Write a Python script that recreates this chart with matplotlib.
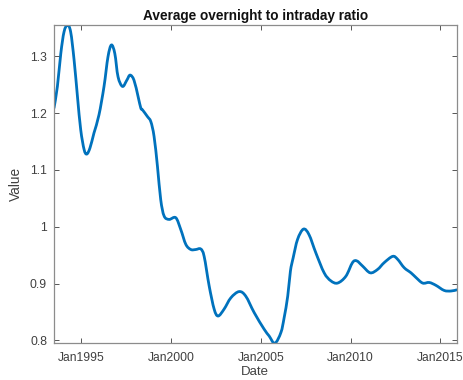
import datetime as dt
import matplotlib
matplotlib.use("Agg")
import matplotlib.pyplot as plt
import matplotlib.dates as mdates
from matplotlib.path import Path
from matplotlib.patches import PathPatch

# Ratio series: (decimal year, value)
years = [1993.47, 1993.66, 1993.85, 1994.03, 1994.22, 1994.40, 1994.59, 1994.78, 1994.96,
         1995.15, 1995.30, 1995.48, 1995.70, 1995.98, 1996.26, 1996.48, 1996.67, 1996.86,
         1997.04, 1997.29, 1997.53, 1997.71, 1997.93, 1998.16, 1998.31, 1998.40, 1998.68,
         1998.87, 1999.05, 1999.24, 1999.42, 1999.61, 1999.89, 2000.26, 2000.54, 2000.82,
         2001.10, 2001.37, 2001.65, 2001.84, 2002.12, 2002.40, 2002.62, 2002.95,
         2003.33, 2003.79, 2004.16, 2004.63, 2005.18, 2005.46, 2005.78, 2006.12, 2006.30,
         2006.50, 2006.65, 2006.80, 2007.05, 2007.38, 2007.69, 2008.07, 2008.53, 2008.90,
         2009.28, 2009.74, 2010.11, 2010.35, 2010.67, 2011.10, 2011.51, 2011.88, 2012.35,
         2012.62, 2012.99, 2013.37, 2013.64, 2014.02, 2014.39, 2014.76, 2015.22, 2015.60,
         2015.92]
values = [1.209, 1.247, 1.305, 1.343, 1.355, 1.343, 1.294, 1.229, 1.171,
          1.136, 1.128, 1.139, 1.165, 1.197, 1.247, 1.299, 1.320, 1.305,
          1.264, 1.247, 1.258, 1.267, 1.258, 1.229, 1.209, 1.206, 1.194,
          1.185, 1.159, 1.106, 1.048, 1.019, 1.013, 1.016, 0.995, 0.969,
          0.960, 0.960, 0.961, 0.948, 0.896, 0.855, 0.843, 0.855,
          0.875, 0.886, 0.878, 0.849, 0.820, 0.808, 0.795, 0.814, 0.840,
          0.878, 0.922, 0.945, 0.978, 0.996, 0.986, 0.954, 0.919, 0.905,
          0.901, 0.913, 0.937, 0.940, 0.931, 0.919, 0.925, 0.937, 0.948,
          0.943, 0.928, 0.919, 0.911, 0.901, 0.902, 0.897, 0.888, 0.887,
          0.889]

tick_years = [1995, 2000, 2005, 2010, 2015]
ytick_values = [0.8, 0.9, 1.0, 1.1, 1.2, 1.3]
ytick_labels = ["0.8", "0.9", "1", "1.1", "1.2", "1.3"]


def to_date(y):
    year = int(y)
    start = dt.datetime(year, 1, 1)
    end = dt.datetime(year + 1, 1, 1)
    return start + (end - start) * (y - year)


def smooth_path(xs, ys):
    """Catmull-Rom curve through the points, expressed as cubic Bezier segments."""
    n = len(xs)
    verts = [(xs[0], ys[0])]
    codes = [Path.MOVETO]
    for i in range(n - 1):
        i0 = max(i - 1, 0)
        i3 = min(i + 2, n - 1)
        c1 = (xs[i] + (xs[i + 1] - xs[i0]) / 6.0, ys[i] + (ys[i + 1] - ys[i0]) / 6.0)
        c2 = (xs[i + 1] - (xs[i3] - xs[i]) / 6.0, ys[i + 1] - (ys[i3] - ys[i]) / 6.0)
        verts += [c1, c2, (xs[i + 1], ys[i + 1])]
        codes += [Path.CURVE4] * 3
    return Path(verts, codes)


dates = [to_date(y) for y in years]
xnum = mdates.date2num(dates)

plt.rcParams["font.family"] = ["Liberation Sans", "DejaVu Sans"]

fig = plt.figure(figsize=(4.63, 3.80), dpi=100)
ax = fig.add_axes([0.1166, 0.0966, 0.8698, 0.8374])
ax.xaxis_date()

ax.add_patch(PathPatch(smooth_path(list(xnum), values), facecolor="none",
                       edgecolor="#0072BD", linewidth=2.0,
                       capstyle="round", joinstyle="round"))

ax.set_xlim(xnum[0], xnum[-1])
ax.set_ylim(min(values), max(values))

ax.set_xticks(mdates.date2num([dt.datetime(y, 1, 1) for y in tick_years]))
ax.xaxis.set_major_formatter(mdates.DateFormatter("Jan%Y"))
ax.set_yticks(ytick_values)
ax.set_yticklabels(ytick_labels)

for s in ax.spines.values():
    s.set_color("#8c8c8c")
    s.set_linewidth(0.9)
ax.tick_params(direction="in", length=3.5, width=0.7, color="#555555",
               labelcolor="#404040", labelsize=8.7, top=True, right=True)
ax.tick_params(axis="x", pad=6.5)
ax.tick_params(axis="y", pad=5)

ax.set_title("Average overnight to intraday ratio", fontsize=9.8, fontweight="bold",
             color="#111111", pad=4)
ax.set_xlabel("Date", fontsize=9.5, color="#404040", labelpad=1)
ax.set_ylabel("Value", fontsize=9.8, color="#404040", labelpad=5)

fig.savefig("out.png", dpi=100)
